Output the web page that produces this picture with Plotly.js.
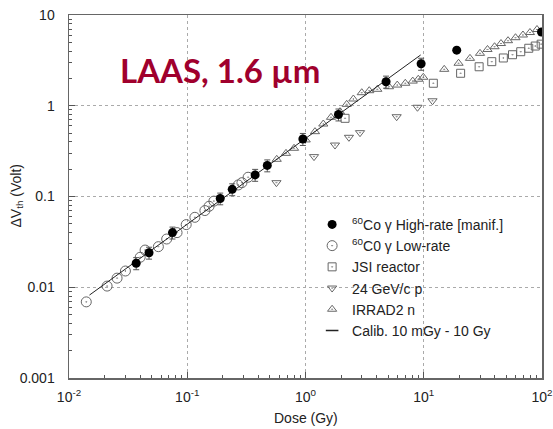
<!DOCTYPE html>
<html>
<head>
<meta charset="utf-8">
<script src="https://cdn.plot.ly/plotly-3.0.1.min.js"></script>
<style>html,body{margin:0;padding:0;background:#fff;}#chart{width:553px;height:429px;}</style>
</head>
<body>
<div id="chart"></div>
<script>
// 60Co gamma high-rate [manif.]
const hiX = [0.037, 0.0475, 0.075, 0.19, 0.24, 0.375, 0.475, 0.95, 1.9, 4.8, 9.5, 19, 99];
const hiY = [0.0184, 0.024, 0.040, 0.095, 0.12, 0.173, 0.22, 0.43, 0.80, 1.84, 2.9, 4.1, 6.5];
const hiErr = [0.0028, 0.0036, 0.006, 0.014, 0.018, 0.026, 0.033, 0.065, 0.12, 0.28, 0.44, 0, 0];
// 60Co gamma low-rate
const loX = [0.014, 0.021, 0.0255, 0.030, 0.040, 0.044, 0.057, 0.067, 0.082, 0.098, 0.116, 0.141, 0.153, 0.168, 0.27, 0.29, 0.327];
const loY = [0.0069, 0.0103, 0.0126, 0.0151, 0.0214, 0.0257, 0.028, 0.034, 0.040, 0.049, 0.059, 0.070, 0.078, 0.089, 0.134, 0.142, 0.163];
// JSI reactor
const jsiX = [2.16, 12.05, 20.5, 29.4, 37.6, 47.1, 56.3, 66.1, 77.3, 87.7, 98.4];
const jsiY = [0.727, 1.77, 2.28, 2.69, 3.06, 3.36, 3.65, 3.94, 4.30, 4.55, 4.77];
// 24 GeV/c p
const pX = [0.568, 1.18, 1.776, 2.33, 2.89, 5.90, 8.85, 11.86];
const pY = [0.142, 0.275, 0.369, 0.449, 0.505, 0.757, 0.962, 1.134];
// IRRAD2 n
const nX = [0.571, 0.684, 0.800, 1.004, 1.203, 1.414, 1.643, 1.958, 2.23, 2.54, 2.99, 3.46, 4.05, 5.08, 5.97, 6.98, 8.07, 8.99, 9.91, 14.9, 19.7, 24.6, 29.9, 34.6, 39.7, 45.0, 51.6, 59.7, 69.0, 79.1, 90.7];
const nY = [0.257, 0.299, 0.340, 0.420, 0.518, 0.629, 0.746, 0.860, 1.037, 1.187, 1.393, 1.465, 1.518, 1.62, 1.69, 1.77, 1.87, 1.96, 2.06, 2.52, 2.94, 3.33, 3.78, 4.17, 4.47, 4.85, 5.21, 5.62, 6.02, 6.41, 6.92];
// Calibration 10 mGy - 10 Gy
const calX = [0.0149, 9.42];
const calY = [0.0082, 3.63];

const xTickVals = [0.01, 0.1, 1, 10, 100];
const xTickText = ['10<sup>-2</sup>', '10<sup>-1</sup>', '10<sup>0</sup>', '10<sup>1</sup>', '10<sup>2</sup>'];
const yTickVals = [0.001, 0.01, 0.1, 1, 10];
const yTickText = ['0.001', '0.01', '0.1', '1', '10'];

function minorVals(d0, d1) {
  const v = [];
  for (let d = d0; d < d1; d++) for (let k = 2; k <= 9; k++) v.push(k * Math.pow(10, d));
  return v;
}

const FONT = 'Arial, "Liberation Sans", sans-serif';
const gray = '#666';
const traces = [
  {x: loX, y: loY, mode: 'markers', name: '<sup>60</sup>C0 γ Low-rate', legendrank: 2,
   marker: {symbol: 'circle-open-dot', size: 10, color: gray, line: {width: 1, color: gray}}},
  {x: jsiX, y: jsiY, mode: 'markers', name: 'JSI reactor', legendrank: 3,
   marker: {symbol: 'square-open-dot', size: 8, color: gray, line: {width: 1, color: gray}}},
  {x: pX, y: pY, mode: 'markers', name: '24 GeV/c p', legendrank: 4,
   marker: {symbol: 'triangle-down-open-dot', size: 8, color: gray, line: {width: 1, color: gray}}},
  {x: nX, y: nY, mode: 'markers', name: 'IRRAD2 n', legendrank: 5,
   marker: {symbol: 'triangle-up-open-dot', size: 8, color: gray, line: {width: 1, color: gray}}},
  {x: calX, y: calY, mode: 'lines', name: 'Calib. 10 mGy - 10 Gy', showlegend: false,
   line: {color: '#222', width: 1}},
  {x: [null], y: [null], mode: 'markers', name: 'Calib. 10 mGy - 10 Gy', legendrank: 6,
   marker: {symbol: 'line-ew', size: 9, color: '#222', line: {width: 1.5, color: '#222'}}},
  {x: hiX, y: hiY, mode: 'markers', name: '<sup>60</sup>Co γ High-rate [manif.]', legendrank: 1,
   marker: {symbol: 'circle', size: 9, color: '#000'},
   error_y: {type: 'data', array: hiErr, visible: true, color: '#555', thickness: 1, width: 3}}
];

const axisCommon = {
  type: 'log', showline: true, linecolor: '#666', linewidth: 1.5, mirror: true,
  ticks: 'inside', ticklen: 6, tickcolor: '#555', tickwidth: 1,
  showgrid: true, gridcolor: '#aaa', griddash: 'dot', gridwidth: 1,
  zeroline: false, tickmode: 'array',
  tickfont: {family: FONT, size: 14, color: '#222'}
};

const layout = {
  width: 553, height: 429,
  margin: {l: 69, r: 11, t: 15, b: 51},
  paper_bgcolor: '#fff', plot_bgcolor: '#fff',
  showlegend: true,
  xaxis: Object.assign({}, axisCommon, {
    range: [-2, 2], tickvals: xTickVals, ticktext: xTickText, ticklabelstandoff: 6,
    minor: {tickmode: 'array', tickvals: minorVals(-2, 2), ticks: 'inside', ticklen: 3, tickcolor: '#555', showgrid: false}
  }),
  yaxis: Object.assign({}, axisCommon, {
    range: [-3, 1], tickvals: yTickVals, ticktext: yTickText, ticklabelstandoff: 10,
    minor: {tickmode: 'array', tickvals: minorVals(-3, 1), ticks: 'inside', ticklen: 3, tickcolor: '#555', showgrid: false}
  }),
  legend: {
    x: 0.514, y: 0.466, xanchor: 'left', yanchor: 'top',
    bgcolor: 'rgba(0,0,0,0)', borderwidth: 0, itemwidth: 30,
    font: {family: FONT, size: 14, color: '#222'}
  },
  annotations: [
    {text: 'LAAS, 1.6 µm', xref: 'paper', yref: 'paper', x: 0.1036, y: 0.848,
     xanchor: 'left', yanchor: 'middle', showarrow: false,
     font: {family: 'Lato, Carlito, sans-serif', size: 33, color: '#a0002d', weight: 'bold'}},
    {text: 'Dose (Gy)', xref: 'paper', yref: 'paper', x: 0.5, y: -(418 - 378) / 363,
     xanchor: 'center', yanchor: 'middle', showarrow: false,
     font: {family: FONT, size: 14, color: '#222'}},
    {text: 'ΔV<sub>th</sub> (Volt)', xref: 'paper', yref: 'paper', x: (16 - 69) / 473, y: 0.5,
     xanchor: 'center', yanchor: 'middle', showarrow: false, textangle: -90,
     font: {family: FONT, size: 14, color: '#222'}}
  ]
};

Plotly.newPlot('chart', traces, layout, {displayModeBar: false, staticPlot: true});
</script>
</body>
</html>
